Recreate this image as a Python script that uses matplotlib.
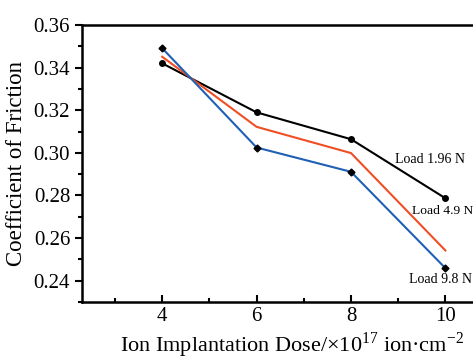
import matplotlib
matplotlib.use("Agg")
import matplotlib.pyplot as plt
from matplotlib.ticker import MultipleLocator

plt.rcParams['font.family'] = 'Liberation Serif'
plt.rcParams['mathtext.fontset'] = 'custom'
plt.rcParams['mathtext.rm'] = 'Liberation Serif'

dose = [4, 6, 8, 10]
cof_196 = [0.342, 0.319, 0.3064, 0.2787]
cof_49 = [0.3451, 0.3122, 0.2999, 0.2542]
cof_98 = [0.3491, 0.3025, 0.2911, 0.2459]

fig = plt.figure(figsize=(4.73, 3.59), dpi=100)
# right side of the frame runs off the picture, as in the source
axs = fig.add_axes([82 / 473, (359 - 302) / 359, 420 / 473, 277 / 359])

axs.plot(dose, cof_196, color='black', lw=1.5, marker='o', ms=4)
axs.plot(dose, cof_49, color='#f04e23', lw=1.5)
axs.plot(dose, cof_98, color='#1f5fb4', lw=1.5, marker='D', ms=3.5,
         markerfacecolor='black', markeredgecolor='black')

axs.text(9.68, 0.2967, "Load 1.96 N", fontsize=10, ha='center', va='center')
axs.text(9.94, 0.2728, "Load 4.9 N", fontsize=9.7, ha='center', va='center')
axs.text(9.89, 0.2405, "Load 9.8 N", fontsize=10, ha='center', va='center')

axs.set_xlim(2.3, 11.2)
axs.set_ylim(0.23, 0.36)
axs.xaxis.set_minor_locator(MultipleLocator(1))
axs.yaxis.set_minor_locator(MultipleLocator(0.01))
axs.set_yticks([0.24, 0.26, 0.28, 0.30, 0.32, 0.34, 0.36])
axs.set_yticklabels(['0.24', '0.26', '0.28', '0.30', '0.32', '0.34', '0.36'])
axs.set_xticks([4, 6, 8, 10])
axs.tick_params(axis='x', which='both', direction='in', labelsize=15, width=1.5)
axs.tick_params(axis='x', which='major', length=5)
axs.tick_params(axis='x', which='minor', length=3)
axs.tick_params(axis='y', which='both', direction='out', labelsize=15, width=1.5)
axs.tick_params(axis='y', which='major', length=5)
axs.tick_params(axis='y', which='minor', length=3)
for side in ['left', 'bottom', 'top', 'right']:
    axs.spines[side].set_linewidth(1.8)

axs.set_xlabel(r"Ion Implantation Dose/×10$^{17}$ ion·cm$^{-2}$", fontsize=16, labelpad=3)
axs.set_ylabel("Coefficient of Friction", fontsize=16.5, labelpad=5)

fig.savefig("out.png", dpi=100)
